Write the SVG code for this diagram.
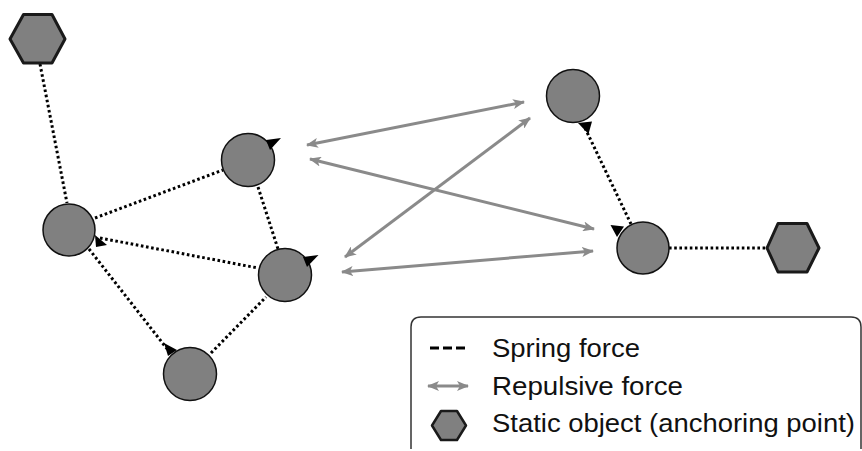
<svg xmlns="http://www.w3.org/2000/svg" width="862" height="451" viewBox="0 0 862 451">
<defs>
<style>
.node{fill:#808080;stroke:#111;stroke-width:1.5}
.hex{fill:#808080;stroke:#1a1a1a;stroke-width:3;stroke-linejoin:round}
.spring{stroke:#000;stroke-width:3;stroke-dasharray:2.6 2.6;fill:none}
.rep{stroke:#8a8a8a;stroke-width:3;fill:none;marker-start:url(#ah);marker-end:url(#ah)}
.tip{fill:#000}
.lbl{font-family:"Liberation Sans",Arial,sans-serif;font-size:26.5px;fill:#111}
</style>
<marker id="ah" viewBox="0 0 12 10" refX="11" refY="5" markerWidth="12" markerHeight="10" markerUnits="userSpaceOnUse" orient="auto-start-reverse">
<path d="M0,0 L12,5 L0,10 L3,5 Z" fill="#8a8a8a"/>
</marker>
</defs>
<rect width="862" height="451" fill="#fff"/>
<g id="connectors">
<line class="spring" x1="40" y1="64" x2="67" y2="203"/>
<line class="spring" x1="95" y1="218" x2="223" y2="170"/>
<line class="spring" x1="100" y1="238" x2="258" y2="268"/>
<line class="spring" x1="258" y1="187" x2="278" y2="249"/>
<line class="spring" x1="89" y1="249" x2="168" y2="350"/>
<line class="spring" x1="211" y1="353" x2="266" y2="297"/>
<line class="spring" x1="585" y1="128" x2="631" y2="224"/>
<line class="spring" x1="669" y1="248" x2="767" y2="248"/>
<line class="rep" x1="307" y1="145" x2="524" y2="102"/>
<line class="rep" x1="310" y1="159" x2="594" y2="229"/>
<line class="rep" x1="345" y1="257" x2="530" y2="118"/>
<line class="rep" x1="342" y1="272" x2="593" y2="251"/>
</g>
<g id="anchor1"><polygon class="hex" points="10,39 23.5,14.5 52,14.5 65,39 52,63 23.5,63"/></g>
<g id="anchor2"><polygon class="hex" points="767,248 778,223.5 807,223.5 819,248 807,272 778,272"/></g>
<g id="nodeA"><circle class="node" cx="69" cy="230" r="26"/><polygon class="tip" points="95,235 107,245 96,247"/></g>
<g id="nodeB"><circle class="node" cx="248" cy="160" r="26.5"/><polygon class="tip" points="266,140 281,138 270,150"/></g>
<g id="nodeC"><circle class="node" cx="285" cy="275" r="26.5"/><polygon class="tip" points="303,257 318.5,255 307,267"/></g>
<g id="nodeD"><circle class="node" cx="190" cy="374" r="26.5"/><polygon class="tip" points="164,343 177,350 168,356"/></g>
<g id="nodeE"><circle class="node" cx="573" cy="96" r="26.5"/><polygon class="tip" points="578,123 592,121.5 588.5,134"/></g>
<g id="nodeF"><circle class="node" cx="643" cy="248" r="26"/><polygon class="tip" points="610.5,225 624,226.5 617,237"/></g>
<g id="legend">
<path d="M411,449 L411,327 Q411,317 421,317 L851,317 Q861,317 861,327 L861,449" fill="none" stroke="#333" stroke-width="1.5"/>
<line x1="430" y1="348" x2="465" y2="348" stroke="#000" stroke-width="3" stroke-dasharray="9 4"/>
<line x1="428" y1="386" x2="468" y2="386" class="rep"/>
<polygon class="hex" style="stroke-width:2.5" points="432,425.5 441,411 457,411 466,425.5 457,440 441,440"/>
<text class="lbl" x="492" y="357" textLength="148" lengthAdjust="spacingAndGlyphs">Spring force</text>
<text class="lbl" x="492" y="395" textLength="191" lengthAdjust="spacingAndGlyphs">Repulsive force</text>
<text class="lbl" x="492" y="432" textLength="363" lengthAdjust="spacingAndGlyphs">Static object (anchoring point)</text>
</g>
</svg>
